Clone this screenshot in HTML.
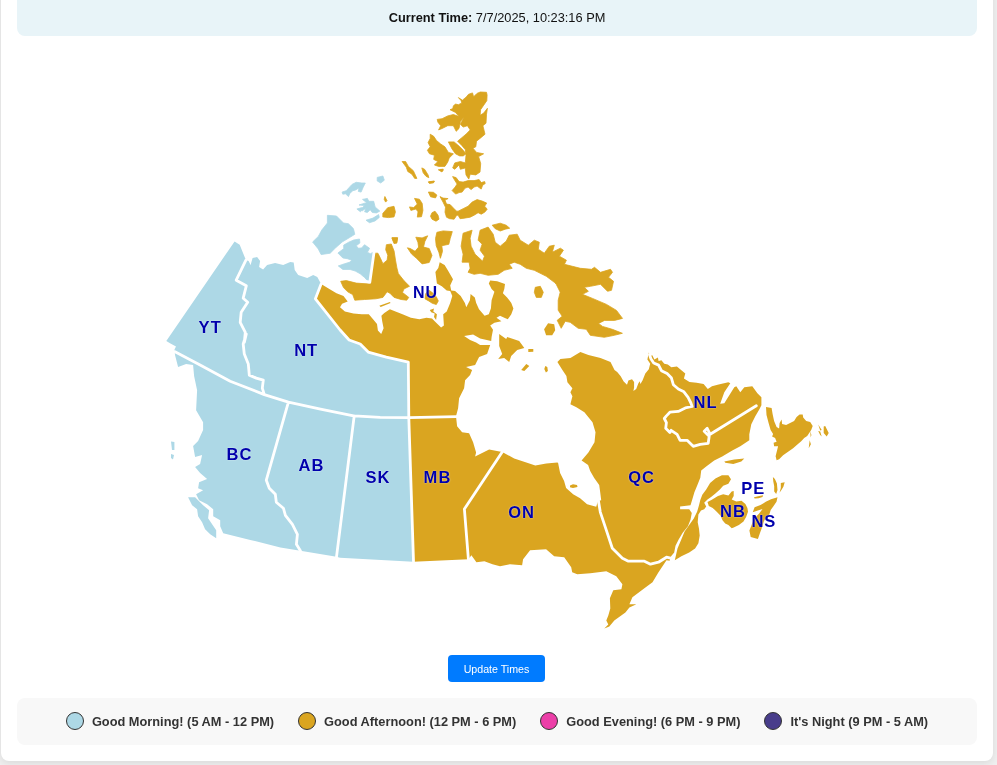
<!DOCTYPE html>
<html lang="en"><head><meta charset="utf-8"><title>Canada Time Zones</title>
<style>
html,body{margin:0;padding:0}
body{background:#f0f0f0;font-family:"Liberation Sans",Arial,sans-serif;width:997px;height:765px;overflow:hidden;position:relative}
.card{position:absolute;left:1px;top:-20px;width:992px;height:781px;background:#fff;border-radius:8px;box-shadow:0 2px 10px rgba(0,0,0,.1)}
.time{position:absolute;left:17px;top:-10px;width:960px;height:46px;background:#e8f4f8;border-radius:8px;box-sizing:border-box;text-align:center;font-size:12.8px;color:#111;line-height:15px;padding-top:20px}
.map{position:absolute;left:0;top:0}
.btn{position:absolute;left:448px;top:655px;width:97px;height:27px;background:#007bff;color:#fff;border:0;border-radius:4px;font:10.67px "Liberation Sans",Arial,sans-serif;padding:2px 0 0 0;box-sizing:border-box;text-align:center;line-height:25px}
.legend{position:absolute;left:17px;top:697.5px;width:960px;height:47.5px;background:#f8f8f8;border-radius:8px;display:flex;justify-content:center;align-items:center;gap:24px;font-size:12.8px;font-weight:bold;color:#333}
.item{display:flex;align-items:center;gap:8px;white-space:nowrap}
.dot{width:16px;height:16px;border-radius:50%;border:1px solid #333;flex:none}
</style></head><body>
<div class="card"></div>
<div class="time"><b>Current Time:</b> 7/7/2025, 10:23:16 PM</div>
<svg class="map" width="997" height="765" viewBox="0 0 997 765"><path fill="#add8e6" d="M234.6,241.4L239.7,244.8L245.9,260.1L248.6,261.1L250.6,265.1L252.6,258.1L257.1,257.1L260.1,261.1L259.1,267.1L263.1,269.6L267.1,265.1L275.1,263.1L283.2,265.1L290.2,262.1L293.7,262.6L294.7,270.1L298.2,275.1L307.2,278.1L313.2,275.1L317.3,277.1L321.1,284.1L315.4,298.8L340.1,330L349.1,340L360.2,344L368.2,352.1L386.3,357.1L408.3,362.1L408.8,417.7L413.5,561.5L413.2,561.7L340,557.7L336.5,556.8L300.4,550.8L280.4,547.4L250.3,539.9L223.2,533.3L220.2,526.3L220.2,520.3L213.2,516.3L213.2,509.2L207.1,504.2L199.1,500.2L196.1,494.2L203.1,490.2L198.1,488.2L199.1,482.2L207.1,479.1L200.1,473.1L195.1,467.1L200.1,464.1L202.1,455.1L195.1,457.1L193.1,446L198.1,441L203.1,430L203.1,422.3L196.1,410.2L197.1,390.2L194.1,376.1L193.1,365.1L186.1,364.1L178.1,367.1L175,355.1L174.5,349.5L176,346.4L170,343.2L166.3,341Z M188.1,497.2L195.1,497.2L203.1,505.2L209.1,510.2L208.1,518.3L216.2,530.3L216.2,538.3L210.2,534.3L205.1,529.3L202.1,522.3L198.1,516.3L197.1,509.2L192.1,505.2Z M171,441.6L174.4,442L174.4,450.1L172,450.1Z M171,454.1L174,455.1L173,459.5L171,458.1Z"/><path fill="#add8e6" stroke="#add8e6" stroke-width="0.8" stroke-linejoin="round" d="M327.4,215.3L336.5,216L343.5,223L348.4,223.7L353.4,228.6L354.8,234.3L349.2,237.8L342.1,242L335.1,248.3L330.2,253.2L321.1,254.6L318.3,249L312.6,242L318.3,236.4L321.8,230L327.4,223Z M337.9,253L343.7,248.7L343.7,245.1L348.7,242.2L353.7,240L359.5,239L359.9,242.9L356.3,245.8L358.4,248.3L361.7,247.9L364.5,244.7L369.6,248.3L367.4,252.3L370.3,253.7L374,251.9L371.2,282.6L368.8,282.1L364.5,277.4L360.2,273.8L355.2,271L350.1,269.5L342.9,269.5L338.3,265.9L344.4,263.8L349.4,262.3L351.9,260.2L347.3,258.7L342.9,258Z M342.1,192.1L346.3,190.7L352,184.4L356.2,182.3L361.8,183L365.3,183L363.2,187.2L361.1,192.1L358.3,191.4L359,187.9L355.5,190L352.7,190.7L349.9,193.5L348.4,196.6L345.6,193.8L342.8,194.2Z M377.2,177.4L382.9,176L384.3,180.2L380.7,183L377.2,180.9Z M362.5,199.4L367.4,198.4L368.8,201.3L373.7,201.3L375.1,206.9L379.8,211.1L376.5,212.9L372.3,212.5L370.2,209.7L367.4,212.5L364.6,211.8L366,208.3L361.8,211.1L360.4,209.7L364.6,205.5L359,205L363.9,203.4L366.7,202.7Z M356.9,209L361.8,207.6L360.4,211.8Z M366,220.2L373,218.1L378.6,214.6L379.3,217.4L375.1,220.9L369.5,222.7Z"/><path fill="#daa520" d="M321.1,284.1L328.1,288.3L336.5,293.2L343.5,296L347.7,301.6L342.1,303.7L340,307.2L344.9,311.4L353.4,313.6L361.8,314.3L368.8,314.3L373.7,319.9L377,324.1L377.9,330.4L381.2,333.9L383.6,328.3L382.2,321.3L381.4,315.7L384.3,312.9L389.9,309.3L395.5,311.4L402.5,314.3L410.9,317.8L419.4,319.2L426.4,317.8L432,318.5L436.2,322.7L441.1,327.6L443.9,325.5L443.2,314.3L446.7,311.4L450.2,303L452.3,296L450.2,291.1L446.7,290.4L441.8,286.2L436.9,283.4L435.4,272.1L438.3,267.9L439.7,262.3L444.6,265.1L448.1,270.7L453,279.2L450.2,285.5L451.2,290.4L455.1,291.1L460.7,296L464.9,303L466.3,307.2L469.9,300.2L470.6,293.9L474.8,297.4L476.2,303L479,309.3L484.6,315.7L488.8,314.3L490.9,308.6L491.6,300.2L494.4,291.8L491.6,289L488.8,283.4L490.2,280.6L497.2,281.3L505,284.1L504.3,289L502.9,293.2L507.1,297.4L511.3,303L513.4,308.6L511.3,314.3L507.8,319.2L504.3,317.8L500,315.7L496.5,317.8L501.4,321.3L494.4,322.7L490.2,325.5L493,329.7L491.6,337L491.6,337L491.2,341L480.1,338.4L473.1,334.4L464.1,336L470.1,340L476.1,342.4L480.1,345L490.2,345L487.1,354.1L479.1,357.1L475.1,365.1L466.1,367.1L472.1,370.1L470.1,375.1L465.1,380.2L464.1,388.2L459.1,398.2L458.1,408.2L456,416.3L457.1,426.3L462.1,432.3L469.1,433.3L473.1,442.3L476.1,452.4L475.1,456.4L489.1,449.4L502.2,452L514.2,458.4L526.3,462.4L535.3,465.4L546.3,463.4L557.4,462.4L558.1,463.1L560.1,473.1L564.1,481.1L566.1,488.1L573.1,494.2L580.1,498.2L587.1,504.2L596.2,506.7L598,501L601.2,500.2L600.2,492.2L599.2,485.1L594.2,478.1L590.2,471.1L588.1,465.1L581.6,460.6L588.4,452.4L594.5,442.3L595.5,432.3L592.5,422.3L584.4,412.2L576.4,407.2L570.4,404.2L572.4,396.2L570.4,392.2L572.4,388.2L567.4,382.2L566.4,376.1L562.4,370.1L557.4,362.1L560.4,359.1L570.4,358.1L580.4,352.1L588.4,355.1L600.5,358.1L610.5,362.1L614.5,370.1L617.2,372.1L620.7,376.3L623.5,381.3L627,384.8L628.4,380.6L632,379.2L634.1,382L634.1,387.6L633.4,391.1L636.2,389L638.3,383.4L639.7,381.3L640.4,384.1L642.5,380.6L645.3,373.5L648.8,369.3L650.2,363.7L647.4,359.5L648.8,352.5L650.2,356L652.3,355.3L654.4,359.5L657.9,357.4L658.6,360.9L661.4,360.2L664.3,363.7L667.8,364.4L671.3,367.2L676.9,366.5L681.1,370L685.3,373.5L683.9,378.4L689.5,382L696.6,382.7L703.6,384.1L707.8,389L712,386.2L717.6,384.8L728.3,382.2L730.3,383.2L724.3,392.2L720.2,403.8L724.3,403.2L734.3,387.2L736.3,386.2L740.3,392.2L744.3,387.2L752.3,386.2L757.4,393.2L761.4,397.2L761.4,405.2L759.4,409.2L755.3,416.3L751.3,424.3L749.3,434.3L749.3,440.3L740.3,446.3L732.3,450.4L722.2,456.4L714.2,460.4L706.2,466.4L701.2,470.4L700.2,478.4L700.3,477.8L697.1,485.7L694.4,492.2L692.5,498.8L690.5,505.3L680.1,506.6L680.1,509.2L689.2,509.2L691.8,513.1L690.5,519.7L687.9,526.2L682.7,532.7L678.8,539.3L675.5,545.8L674.2,552.4L670.9,556.5L669.6,560.8L666.5,560.2L658.5,572.2L652.5,582.3L644.4,588.3L632.4,597.3L629.4,604.3L636.4,604.3L629.4,607.4L625.4,612.4L614.3,620.4L609.3,626.4L604.3,628.4L608.3,624.4L606.3,620.4L608.3,615.4L610.3,608.4L609.9,598.3L613.3,590.3L621.4,589.3L622.4,584.3L616.3,576.3L606.3,571.2L590.3,573.2L577.2,574.3L572.2,572.2L571.2,567.2L564.2,557.2L554.2,556.2L546.1,549.2L530.1,550.2L523.1,559.2L522.1,565.2L510,564.2L500,566.2L492.5,564.3L484.4,561.3L476.4,562.3L471.4,555.3L468.4,559.3L413.2,561.7L413.5,561.5L408.8,417.7L408.3,362.1L386.3,357.1L368.2,352.1L360.2,344L349.1,340L340.1,330L315.4,298.8Z M674.8,560.2L677.5,548.4L681.4,539.3L684.6,531.4L689.2,524.9L693.8,518.4L697.1,511.8L699,505.3L700.3,500.1L702.3,494.8L706.2,489.6L710.1,483.1L715.4,478.5L721.9,475.2L728.4,475.2L731,479.2L728.4,483.7L723.2,485.7L719.9,489.6L715.4,493.5L711.4,496.8L707.5,499.4L704.2,502.7L706.2,506.6L704.2,509.2L701,510.5L698.4,514.4L697.7,522.3L699,528.8L699.7,535.4L698.4,543.2L695.1,548.4L689.2,552.4L681.4,556.3Z M707.5,502L711.4,500.1L718,496.1L723.2,494.2L728.4,495.5L731.7,491.6L733.7,490.9L733.7,496.1L731.7,499.4L736.3,501.4L741.5,500.7L745.4,504L747.4,507.9L748,511.8L746.1,517.1L743.5,521.6L738.9,524.9L733.7,527.5L731.7,528.2L728.4,524.9L725.2,523.6L722.5,520.3L720.6,515.8L716.7,511.8L712.7,507.9L708.8,505.9Z M752.7,512.3L754.6,507.3L760.5,505.1L765.8,501.8L771,499.2L777.5,497.3L776.5,501.8L773.6,506L770.7,509.9L769,515.6L766.4,516.2L763.8,521.4L761.8,528L759.9,533.2L757.9,539.1L750.7,537.1L749.4,530.6L751.4,525.4L754,518.8L759.2,513.6L762.5,509L758.6,510.3Z M772.9,477L774.9,479L776.9,483.5L777.5,490.1L776.2,494L774.2,491.4L774.2,486.1L773.3,481.6Z M780.8,482.9L784.7,482.2L783.4,486.8L781.4,490.1L779.5,492.7L780.8,488.1Z M754,497.3L759.2,495.9L763.1,495.3L762.5,496.9L758.6,498.2L754.6,498.6Z M724.3,461.4L734.3,459.4L744.3,458.4L741.3,461.4L733.3,464L725.3,462.8Z M766,407.1L771.6,408.1L772.6,414.1L774.1,421.1L776.6,427.1L779.1,428.6L779.6,423.1L781.6,419.6L782.1,424.1L786.1,425.1L790.1,423.1L794.1,421.1L796.6,417.1L799.6,414.6L802.7,414.6L803.2,417.6L806.2,421.1L810.2,422.1L812.7,426.1L811.2,430.1L809.2,433.1L807.2,436.1L804.2,438.1L801.2,441.2L797.1,444.7L793.1,448.2L788.1,451.7L783.1,455.2L779.1,459.2L776.6,460.2L775.6,456.2L777.1,450.2L778.1,446.2L774.1,446.2L773.6,442.7L776.6,441.7L775.1,438.1L772.1,436.6L773.1,434.1L770.6,430.1L768.6,423.1L766.5,415.1Z M823.7,426.6L825.2,426.1L828.7,433.1L826.7,436.6L823.7,433.1Z M818.2,424.6L821.7,430.1L820.2,430.6Z M818.2,431.1L820.2,431.6L821.7,436.6L820.2,435.1Z M810.2,431.1L811.4,435.1L810.7,437.6Z M809.7,440.2L810.9,444.2L808.7,448.2Z M499.2,334L506.2,339L507.2,337L519.2,341L524.3,348.1L517.2,350.1L511.2,356.1L509.2,362.1L504.2,358.1L498.2,359.1L502.2,354.1L499.2,346Z M526.3,364.1L529.3,366.1L524.3,371.1L521.2,370.1Z M528.3,349.1L533.3,349.1L533.3,351.7L528.3,352.1Z M545.3,366.1L547.3,367.1L547.9,371.1L545.9,372.5L544.3,369.1Z M570,485.5L573,484.3L577,485L577.5,487L573,488L570,487.3Z M548.1,323.3L554.2,324.3L555.2,330.3L552.2,335.3L546.1,335.3L544.1,329.3Z M379.3,305.8L389.9,301.9L390.6,303L380.7,307Z M429.8,310L434,308.6L433.3,311.4L436.9,314.3L436.1,319.9L434,317.1L434.7,313.6L431.2,312.2Z"/><path fill="#daa520" stroke="#daa520" stroke-width="0.8" stroke-linejoin="round" d="M535.3,287.3L540.3,286.3L543.3,292.3L541.3,297.4L536.3,297.4L534.3,292.3Z M463.1,233.2L472.1,230.2L470.1,238.2L471.1,246.2L475.1,254.2L481.1,259.8L482.5,261.2L484.5,256.2L480.1,250.2L482.1,244.2L478.1,240.2L480.1,230.2L488.1,227.1L493.2,234.2L495.2,242.2L500.2,246.2L506.2,241.2L509.2,235.2L517.2,234.2L520.2,240.2L528.3,245.2L534.3,240.2L539.3,242.2L538.3,249.2L544.3,253.2L549.3,246.2L554.3,245.2L552.3,252.2L560.4,248.2L563.4,250.2L559.4,256.2L566.4,260.2L564.4,264.3L572.4,266.3L580.4,268.3L591.5,269.3L594.5,267.3L600.5,272.3L610.5,269.3L612.5,272.3L608.5,277.3L613.5,281.3L611.5,290.3L607.5,291.3L600.5,284.3L590.5,286.3L584.4,287.3L588.4,291.3L582.4,294.3L592.5,298.4L606.5,304.4L616.5,310.4L622.5,318.4L614.5,320.4L604.5,320.4L598.5,323.4L602.5,326.4L612.3,329.3L622.4,333.3L614.3,335.3L604.3,337.3L590.3,335.3L586.3,329.3L578.2,328.3L570.2,322.3L565.2,321.3L561.2,328.3L557.2,320.3L562.2,316.3L558.2,310.2L558.2,300.2L560.2,292.2L556.2,284.2L554.3,282.3L546.3,276.3L534.3,270.3L526.3,268.3L520.2,264.3L514.2,262.2L509.2,264.3L512.2,268.3L504.2,270.3L498.2,274.3L488.1,275.3L480.1,273.3L474.1,274.3L468.1,272.3L470.1,268.3L469.1,262.2L462.1,262.2L463.1,254.2L461.1,246.2Z M492.2,225.2L500.2,223.2L506.2,225.2L509.7,228.2L505.2,229.2L500.2,231L495.2,228.7Z M480.3,92L486.5,92.3L487.1,95.1L486.8,100.7L483.7,105.2L480.6,109.7L480.1,115.3L483.7,113.1L487.4,108.3L486.5,114.2L486,123.2L482.9,125.7L485,134.2L480,138.4L476.5,141.2L475.8,146.8L473,148.2L476.5,152.4L483.6,153.8L478.6,156.6L480.7,163.6L480,172.1L475.8,174.9L470.2,174.2L468.8,179.1L466,174.9L465.3,167.9L460.4,169.3L459,165L454.8,169.3L452.7,167.9L454.8,162.9L460.4,161.5L465.3,162.9L466,155.2L465.3,149.6L461.8,145.4L457.6,141.2L461.8,137.7L466,134.2L470.2,129.9L467.4,125.7L463.2,127.1L460.4,124.3L463.9,117.3L460.4,121.5L459,128.5L456.2,131.3L453.4,125.7L447.7,125.7L442.1,128.5L438.6,129.9L440.7,125.7L437.9,122.2L437.2,119.4L442.1,118.7L447.7,115.9L453.4,114.5L459,116.6L455.5,112.4L450,109.7L452.8,108.6L453.4,105.8L455.6,104.1L458.4,104.7L461.8,103L461.2,100.7L458.4,97.6L462.4,100.2L465.2,97.9L466.9,96.2L468.5,94.3L472.5,92.9L473.6,96.8L477,93.4Z M430.2,134.2L433.7,136.3L436.5,140.5L440.7,144L444.9,146.8L448.4,152.4L453.4,153.8L449.2,158L447.7,162.2L444.9,166.4L438.6,166.4L434.4,165L437.9,161.5L433.7,159.4L434.4,155.2L429.5,153.8L427.4,150.3L430.2,146.8L428.1,142.6L430.2,138.4Z M448.4,141.9L454.1,141.9L459,146.1L463.2,150.3L466,153.8L463.2,155.9L459.7,155.9L455.5,153.8L452,148.9Z M402.1,161.5L405.6,161.5L408.4,166.4L413.3,170.7L416.9,178.4L414.7,178.4L411.9,174.2L407.7,171.4L406.3,167.2Z M421.8,167.9L424.6,169.3L428.1,174.9L428.8,177.7L426,176.3L423.2,172.8Z M428.8,181.9L434.4,181.2L433.7,182.6L429.5,183.3Z M440.7,169.3L443.5,170L442.1,171.4Z M452.6,176.6L456.1,177.6L459.1,181.6L463.1,182.1L468.1,180.6L474.1,180.6L479.1,179.6L481.2,182.6L484.7,181.6L485.2,183.6L482.7,185.1L481.2,189.1L477.1,186.1L474.1,187.1L471.1,189.6L468.1,187.1L465.1,188.1L462.1,192.1L459.1,192.6L455.6,194.1L452.1,190.6L455.1,187.1L457.1,184.1L454.6,180.1Z M438.3,169.8L443.2,169.1L441.8,171.9Z M458.1,211.2L463.1,208.7L468.1,206.2L472.1,202.1L477.1,199.6L482.2,201.1L486.7,203.1L484.7,206.2L487.2,209.2L484.7,212.2L481.2,214.2L478.1,212.7L474.1,215.2L470.1,217.2L464.1,218.2L460.1,218.7L458.1,215.2L456.6,215.2L456.1,216.2L454.1,219.2L449.6,218.7L446.5,217.2L445,212.2L445.5,207.2L443,202.1L440,196.6L443,198.1L448.1,198.6L445,200.1L446.5,204.1L450.1,204.6L453.6,208.2L456.6,211.2Z M428.4,192L433.4,192.3L436.9,195.1L435.5,197.9L430.6,196.8Z M414.5,198.4L419.4,199.2L422.2,203.4L422.9,210.4L421.5,216.7L417.3,217.1L418,211.8L415.9,209L410.9,210.4L409.5,206.9L413.7,207.6L417.3,204.1Z M432,212.7L435,211.2L438,215.2L439,219.2L436,221.2L432,219.2L430.5,216.2Z M382.8,213.4L387.7,207.7L394,206.3L395.4,212L394,216.9L388.4,217.6L382.8,216.9Z M384.9,196.5L387,200.7L385.6,202.1L384.2,199.3Z M428.4,181.8L434.1,181.1L433.4,182.7L429.2,183.2Z M436.9,232.3L443.2,230.9L452.3,231.6L450.2,238.6L448.8,244.3L441.8,245.7L442.5,251.3L440.4,258.3L439,252.7L436.2,245.7L435.5,238.6Z M415.8,237.2L422.1,237.9L427.7,235.8L424.9,241.4L423.5,247.1L429.2,248.5L432,255.5L429.2,262.5L422.1,263.9L416.5,258.3L411.6,254.1L407.4,247.8L410.2,248.5L415.1,251.3L418.6,247.1L417.9,242.2Z M340.7,281.3L346.3,280.6L356.2,283.1L370.2,284.1L374,253.2L377.9,253.2L380.7,258.8L382.9,263.7L387.1,260.2L387.8,255.3L385.7,249.7L386.4,244.7L391.3,244L394.1,251.1L395.5,260.2L396.9,267.9L398.3,273.5L403.9,280.6L409.5,286.2L403.9,289L402.5,292.5L408.8,297.4L406.7,300.2L401.1,299.5L394.1,297.4L389.9,293.2L387.1,291.8L382.9,297.4L375.8,298.8L364.6,299.5L354.8,300.2L352.7,294.6L347.7,291.8L343.5,287.6Z M392,237.7L397.6,237.7L396.2,243.3L393.4,241.2Z M428.7,290L433.1,293.3L436.3,296.9L438.3,300.9L436.3,304.5L432.3,303.3L428.7,300.9L425.1,298.9L425.5,294Z M391.9,237.9L397.6,237.9L396.9,242.9L394,243.6Z"/><path fill="none" stroke="#fff" stroke-width="2.8" stroke-linejoin="round" stroke-linecap="round" d="M245.9,260.1L236.2,280.2L246.3,285.8L243.2,298.2L247.7,302.2L241.2,312.2L240.2,322.3L245.3,332.3L244.3,342.3L246.3,334L243.2,344L244.3,354.1L248.3,364.1L249.3,375.1L256.3,378.1L263.3,380.2L262.3,388.2L264.3,394.6 M175,351.7L200.1,365.1L230.2,381.2L264.3,394.6L288.4,402.2L320.5,409.2L353.6,415.9L354.2,415.9L380.2,417.3L408.8,417.7 M408.8,417.7L456.5,416.7 M321.1,284.1L315.4,298.8L340.1,330L349.1,340L360.2,344L368.2,352.1L386.3,357.1L408.3,362.1L408.8,417.7 M408.8,417.7L413.5,561.5 M288.4,402.2L266.3,480.2L269.3,488.2L275.3,494.2L276.3,502.2L283.4,508.2L285.4,515.3L292.4,524.3L297.4,534.3L296.4,544.3L300.4,550.8 M354.2,415.9L336.5,556.8 M502.2,452L464.4,509.1L468.4,559.3 M649.5,354.6L650.9,358.8L653.7,363L658.6,365.1L661.4,370.7L667.1,373.5L671.3,377.7L673.4,384.8L678.3,389L683.9,391.8L688.1,397.4L690.9,403L692.1,406.5L685.3,407.9L678.3,411.4L669.9,412.2L666.4,415.9L664.3,418.5L666.4,422.7L665.7,428.3L669.9,432.5L671.1,430.3L677.1,434.3L680.1,440.3L687.1,440.3L693.2,446.3L700.2,444.3L708.2,443.3L709.2,436.3L704.2,431.3L707.2,428.3L710.2,434.3L756.3,405.8 M598.3,500L600.3,512.1L606.3,530.1L612.3,548.2L622.4,558.2L628.4,561.2L644.4,561.2L650.5,564.2L658.5,562.2L666.5,557.2L670.5,558.2 M374,252.5L369.8,282.2L361.8,280.6L354.8,278.9L345.6,278.4"/><g font-family="'Liberation Sans', Arial, sans-serif" font-weight="bold" font-size="16" fill="#0000ac" text-anchor="middle" letter-spacing="1" style="text-shadow:0 0 1.5px rgba(255,255,255,.85)"><text transform="translate(210.2,332.8) scale(1.035,1)">YT</text><text transform="translate(306.2,355.6) scale(1.035,1)">NT</text><text transform="translate(425.6,297.6) scale(1.0,1)">NU</text><text transform="translate(239.6,459.6) scale(1.035,1)">BC</text><text transform="translate(311.5,471.3) scale(1.035,1)">AB</text><text transform="translate(378,482.5) scale(1.035,1)">SK</text><text transform="translate(437.5,482.5) scale(1.035,1)">MB</text><text transform="translate(521.6,517.6) scale(1.035,1)">ON</text><text transform="translate(641.6,482.6) scale(1.035,1)">QC</text><text transform="translate(705.6,407.6) scale(1.035,1)">NL</text><text transform="translate(753.2,494.2) scale(1.035,1)">PE</text><text transform="translate(732.9,517.4) scale(1.035,1)">NB</text><text transform="translate(763.9,527) scale(1.035,1)">NS</text></g></svg>
<button class="btn">Update Times</button>
<div class="legend">
<div class="item"><span class="dot" style="background:#add8e6"></span><span>Good Morning! (5 AM - 12 PM)</span></div>
<div class="item"><span class="dot" style="background:#daa520"></span><span>Good Afternoon! (12 PM - 6 PM)</span></div>
<div class="item"><span class="dot" style="background:#ec3fa8"></span><span>Good Evening! (6 PM - 9 PM)</span></div>
<div class="item"><span class="dot" style="background:#483d8b"></span><span>It's Night (9 PM - 5 AM)</span></div>
</div>
</body></html>
